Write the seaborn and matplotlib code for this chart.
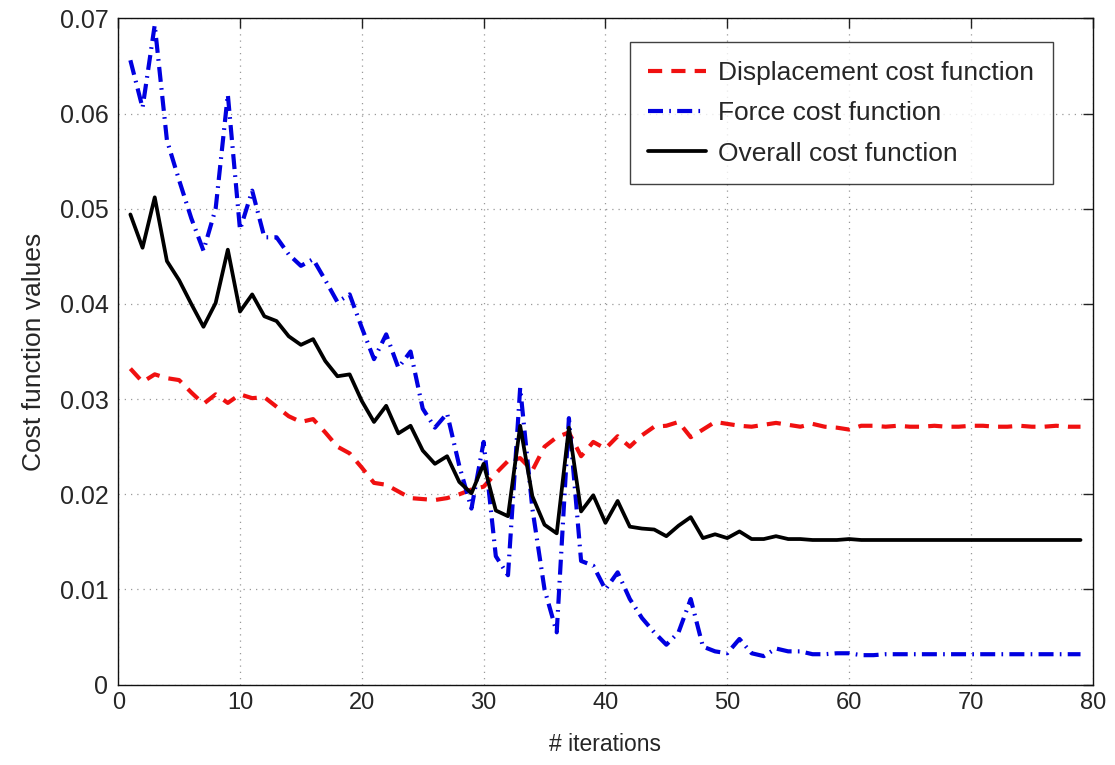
import numpy as np
import pandas as pd
import matplotlib
matplotlib.use("Agg")
import matplotlib.pyplot as plt
import seaborn as sns

iterations = list(range(1, 80))

displacement = [0.0332, 0.0318, 0.0326, 0.0322, 0.0320, 0.0307, 0.0295, 0.0305, 0.0296, 0.0305,
                0.0301, 0.0302, 0.0292, 0.0282, 0.0276, 0.0279, 0.0265, 0.0250, 0.0243, 0.0228,
                0.0212, 0.0210, 0.0203, 0.0196, 0.0195, 0.0194, 0.0196, 0.0200, 0.0205, 0.0208,
                0.0222, 0.0235, 0.0238, 0.0225, 0.0250, 0.0260, 0.0265, 0.0240, 0.0255, 0.0248,
                0.0261, 0.0250, 0.0262, 0.0271, 0.0272, 0.0276, 0.0260, 0.0268, 0.0276, 0.0274,
                0.0272, 0.0271, 0.0273, 0.0275, 0.0273, 0.0271, 0.0274, 0.0271, 0.0270, 0.0268,
                0.0272, 0.0272, 0.0271, 0.0272, 0.0271, 0.0271, 0.0272, 0.0271, 0.0271, 0.0272,
                0.0272, 0.0271, 0.0271, 0.0272, 0.0271, 0.0271, 0.0272, 0.0271, 0.0271]

force = [0.0656, 0.0606, 0.0693, 0.0572, 0.0530, 0.0490, 0.0456, 0.0500, 0.0620, 0.0478,
         0.0519, 0.0470, 0.0470, 0.0452, 0.0440, 0.0447, 0.0425, 0.0402, 0.0410, 0.0375,
         0.0342, 0.0368, 0.0333, 0.0350, 0.0290, 0.0270, 0.0285, 0.0230, 0.0185, 0.0255,
         0.0135, 0.0115, 0.0312, 0.0185, 0.0100, 0.0055, 0.0280, 0.0130, 0.0125, 0.0100,
         0.0118, 0.0090, 0.0070, 0.0055, 0.0042, 0.0055, 0.0090, 0.0040, 0.0035, 0.0033,
         0.0048, 0.0033, 0.0030, 0.0038, 0.0035, 0.0035, 0.0032, 0.0032, 0.0033, 0.0033,
         0.0031, 0.0031, 0.0032, 0.0032, 0.0032, 0.0032, 0.0032, 0.0032, 0.0032, 0.0032,
         0.0032, 0.0032, 0.0032, 0.0032, 0.0032, 0.0032, 0.0032, 0.0032, 0.0032]

overall = [0.0494, 0.0459, 0.0512, 0.0445, 0.0425, 0.0400, 0.0376, 0.0401, 0.0457, 0.0392,
           0.0410, 0.0387, 0.0382, 0.0366, 0.0357, 0.0363, 0.0340, 0.0324, 0.0326, 0.0298,
           0.0276, 0.0293, 0.0264, 0.0272, 0.0246, 0.0232, 0.0240, 0.0213, 0.0201, 0.0232,
           0.0183, 0.0177, 0.0272, 0.0198, 0.0168, 0.0159, 0.0270, 0.0182, 0.0199, 0.0170,
           0.0193, 0.0166, 0.0164, 0.0163, 0.0156, 0.0167, 0.0176, 0.0154, 0.0158, 0.0154,
           0.0161, 0.0153, 0.0153, 0.0156, 0.0153, 0.0153, 0.0152, 0.0152, 0.0152, 0.0153,
           0.0152, 0.0152, 0.0152, 0.0152, 0.0152, 0.0152, 0.0152, 0.0152, 0.0152, 0.0152,
           0.0152, 0.0152, 0.0152, 0.0152, 0.0152, 0.0152, 0.0152, 0.0152, 0.0152]

labels = ["Displacement cost function", "Force cost function", "Overall cost function"]
x_ticks = [0, 10, 20, 30, 40, 50, 60, 70, 80]
y_ticks = [0, 0.01, 0.02, 0.03, 0.04, 0.05, 0.06, 0.07]
y_tick_labels = ["0", "0.01", "0.02", "0.03", "0.04", "0.05", "0.06", "0.07"]

colors = ["#f01010", "#0000e0", "#000000"]
styles = [(0, (3.4, 2.2)), (0, (3.6, 1.5, 0.4, 1.5)), "-"]
widths = [3.0, 3.0, 2.7]

sns.set_style("white")
plt.rcParams["font.family"] = ["Liberation Sans", "DejaVu Sans"]

fig = plt.figure(figsize=(11.15, 7.65), dpi=100)
ax = fig.add_axes([0.106, 0.105, 0.874, 0.871])

for series, lab, col, ls, lw in zip([displacement, force, overall], labels, colors, styles, widths):
    df = pd.DataFrame({"iter": iterations, "val": series})
    sns.lineplot(data=df, x="iter", y="val", ax=ax, color=col, linestyle=ls,
                 linewidth=lw, label=lab)

ax.set_xlim(0, 80)
ax.set_ylim(0, 0.07)
ax.set_xticks(x_ticks)
ax.set_yticks(y_ticks)
ax.set_yticklabels(y_tick_labels)
ax.grid(True, color="#999999", linestyle=(0, (1, 4)), linewidth=0.9)
ax.tick_params(direction="in", length=7, width=1, top=True, right=True, color="#222222")
ax.tick_params(axis="x", labelsize=17, pad=5)
ax.tick_params(axis="y", labelsize=18, pad=7)
for sp in ax.spines.values():
    sp.set_visible(True)
    sp.set_color("#111111")
    sp.set_linewidth(1.0)
ax.set_xlabel("# iterations", fontsize=16.5, labelpad=14)
ax.set_ylabel("Cost function values", fontsize=19, labelpad=10)

leg = ax.legend(loc="upper right", bbox_to_anchor=(0.959, 0.964), borderaxespad=0,
                fontsize=19, frameon=True, fancybox=False, edgecolor="#111111",
                handlelength=2.2, borderpad=0.7, labelspacing=0.62, handletextpad=0.45)
leg.get_frame().set_linewidth(1.0)

fig.savefig("out.png", dpi=100)
